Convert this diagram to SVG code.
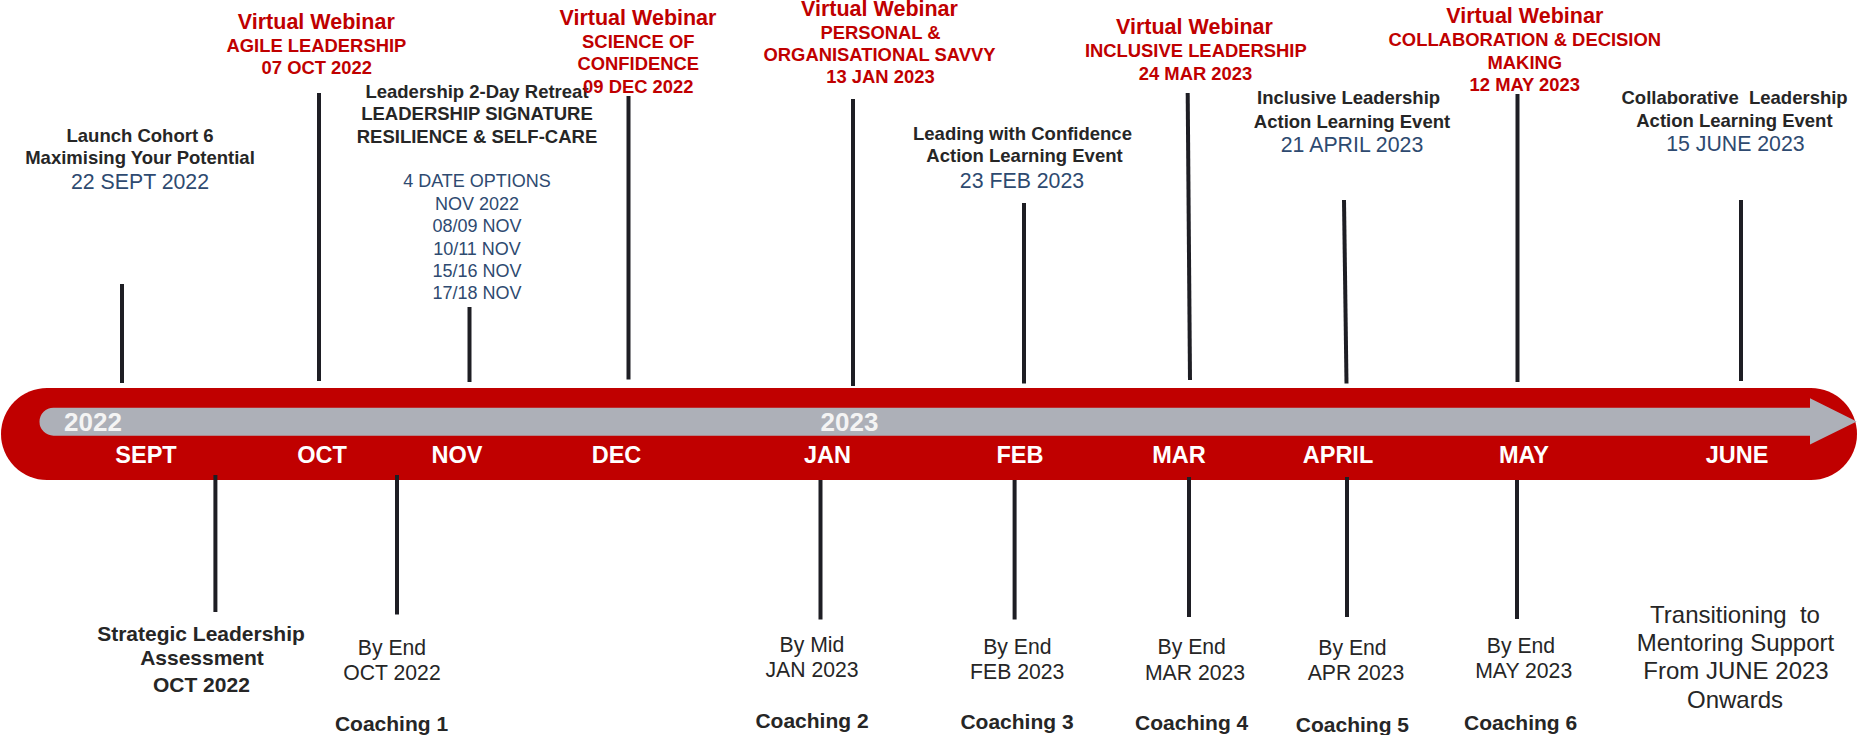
<svg xmlns="http://www.w3.org/2000/svg" width="1858" height="735" viewBox="0 0 1858 735">
  <style>
    text { font-family: "Liberation Sans", Arial, sans-serif; text-anchor: middle; }
    .red { fill: #c00000; font-weight: bold; }
    .vw { font-size: 21.5px; }
    .rs { font-size: 18.4px; }
    .blk { fill: #262626; font-weight: bold; font-size: 18.5px; }
    .nv { fill: #2e4a70; font-size: 21.3px; }
    .nvs { fill: #2e4a70; font-size: 18px; }
    .mon { fill: #ffffff; font-weight: bold; font-size: 23.5px; }
    .yr { fill: #f4f4f4; font-weight: bold; font-size: 26px; text-anchor: start; }
    .by { fill: #262626; font-size: 21.2px; }
    .co { fill: #262626; font-weight: bold; font-size: 21px; }
    .tr { fill: #262626; font-size: 24px; }
    .ln { stroke: #1e1e24; stroke-width: 4; fill: none; }
  </style>

  <!-- timeline band with year arrow -->
  <g id="timeline">
    <rect x="1" y="388" width="1856" height="92" rx="46" ry="46" fill="#c00000"/>
    <path d="M53.5 407.7 H1810 V398.3 L1856.7 421.5 L1810 444.5 V435.7 H53.5 A14 14 0 0 1 53.5 407.7 Z" fill="#adb0b8"/>
    <text class="yr" x="64" y="431">2022</text>
    <text class="yr" x="820.5" y="431">2023</text>
    <text class="mon" x="146" y="462.5">SEPT</text>
    <text class="mon" x="322" y="462.5">OCT</text>
    <text class="mon" x="457" y="462.5">NOV</text>
    <text class="mon" x="616.5" y="462.5">DEC</text>
    <text class="mon" x="827.5" y="462.5">JAN</text>
    <text class="mon" x="1020" y="462.5">FEB</text>
    <text class="mon" x="1179" y="462.5">MAR</text>
    <text class="mon" x="1338" y="462.5">APRIL</text>
    <text class="mon" x="1524" y="462.5">MAY</text>
    <text class="mon" x="1737" y="462.5">JUNE</text>
  </g>

  <!-- tick connectors above and below the band -->
  <g id="connectors">
    <line class="ln" x1="122" y1="284" x2="122" y2="383"/>
    <line class="ln" x1="319" y1="93" x2="319" y2="381"/>
    <line class="ln" x1="469.5" y1="307" x2="469.5" y2="382"/>
    <line class="ln" x1="628.5" y1="96" x2="628.5" y2="379.5"/>
    <line class="ln" x1="853" y1="99" x2="853" y2="386"/>
    <line class="ln" x1="1024" y1="203" x2="1024" y2="383.5"/>
    <line class="ln" x1="1187.7" y1="93" x2="1190" y2="380"/>
    <line class="ln" x1="1344" y1="200" x2="1346.5" y2="383.5"/>
    <line class="ln" x1="1517.5" y1="94" x2="1517.5" y2="382"/>
    <line class="ln" x1="1741" y1="200" x2="1741" y2="381"/>

    <line class="ln" x1="215.4" y1="475" x2="215.4" y2="612"/>
    <line class="ln" x1="397" y1="475" x2="397" y2="614.5"/>
    <line class="ln" x1="820.5" y1="480" x2="820.5" y2="619.5"/>
    <line class="ln" x1="1014.6" y1="480" x2="1014.6" y2="619.5"/>
    <line class="ln" x1="1189" y1="477" x2="1189" y2="617"/>
    <line class="ln" x1="1347" y1="477" x2="1347" y2="617"/>
    <line class="ln" x1="1517" y1="480" x2="1517" y2="619"/>
  </g>

  <!-- events above the band -->
  <g id="launch">
    <text class="blk" x="140" y="141.5">Launch Cohort 6</text>
    <text class="blk" x="140" y="163.5">Maximising Your Potential</text>
    <text class="nv" x="140" y="189">22 SEPT 2022</text>
  </g>

  <g id="webinar-agile">
    <text class="red vw" x="316.3" y="29.3">Virtual Webinar</text>
    <text class="red rs" x="316.4" y="52.3">AGILE LEADERSHIP</text>
    <text class="red rs" x="316.8" y="74">07 OCT 2022</text>
  </g>

  <g id="retreat">
    <text class="blk" x="477" y="97.5">Leadership 2-Day Retreat</text>
    <text class="blk" x="477" y="120">LEADERSHIP SIGNATURE</text>
    <text class="blk" x="477" y="142.7">RESILIENCE &amp; SELF-CARE</text>
    <text class="nvs" x="477" y="187.3">4 DATE OPTIONS</text>
    <text class="nvs" x="477" y="210">NOV 2022</text>
    <text class="nvs" x="477" y="232.3">08/09 NOV</text>
    <text class="nvs" x="477" y="254.5">10/11 NOV</text>
    <text class="nvs" x="477" y="276.7">15/16 NOV</text>
    <text class="nvs" x="477" y="299">17/18 NOV</text>
  </g>

  <g id="webinar-confidence">
    <text class="red vw" x="638" y="25">Virtual Webinar</text>
    <text class="red rs" x="638.3" y="48.3">SCIENCE OF</text>
    <text class="red rs" x="638.3" y="70">CONFIDENCE</text>
    <text class="red rs" x="638.3" y="92.7">09 DEC 2022</text>
  </g>

  <g id="webinar-savvy">
    <text class="red vw" x="879.5" y="16.2">Virtual Webinar</text>
    <text class="red rs" x="880.5" y="38.6">PERSONAL &amp;</text>
    <text class="red rs" x="879.5" y="61">ORGANISATIONAL SAVVY</text>
    <text class="red rs" x="880.5" y="83.3">13 JAN 2023</text>
  </g>

  <g id="confidence-event">
    <text class="blk" x="1022.5" y="140">Leading with Confidence</text>
    <text class="blk" x="1024.5" y="162.3">Action Learning Event</text>
    <text class="nv" x="1022" y="188.3">23 FEB 2023</text>
  </g>

  <g id="webinar-inclusive">
    <text class="red vw" x="1194.5" y="34">Virtual Webinar</text>
    <text class="red rs" x="1195.8" y="56.7">INCLUSIVE LEADERSHIP</text>
    <text class="red rs" x="1195.5" y="80">24 MAR 2023</text>
  </g>

  <g id="inclusive-event">
    <text class="blk" x="1348.6" y="104.3">Inclusive Leadership</text>
    <text class="blk" x="1352" y="127.7">Action Learning Event</text>
    <text class="nv" x="1352" y="151.7">21 APRIL 2023</text>
  </g>

  <g id="webinar-collaboration">
    <text class="red vw" x="1524.8" y="22.7">Virtual Webinar</text>
    <text class="red rs" x="1524.8" y="45.7">COLLABORATION &amp; DECISION</text>
    <text class="red rs" x="1524.8" y="69">MAKING</text>
    <text class="red rs" x="1524.8" y="90.7">12 MAY 2023</text>
  </g>

  <g id="collaborative-event">
    <text class="blk" x="1734.6" y="104" xml:space="preserve">Collaborative  Leadership</text>
    <text class="blk" x="1734.4" y="126.7">Action Learning Event</text>
    <text class="nv" x="1735.4" y="151">15 JUNE 2023</text>
  </g>

  <!-- milestones below the band -->
  <g id="assessment">
    <text class="co" x="201" y="640.5">Strategic Leadership</text>
    <text class="co" x="202" y="665">Assessment</text>
    <text class="co" x="201.4" y="691.5">OCT 2022</text>
  </g>

  <g id="coaching-1">
    <text class="by" x="392" y="655">By End</text>
    <text class="by" x="392" y="680">OCT 2022</text>
    <text class="co" x="391.5" y="730.5">Coaching 1</text>
  </g>

  <g id="coaching-2">
    <text class="by" x="812" y="651.7">By Mid</text>
    <text class="by" x="812" y="676.7">JAN 2023</text>
    <text class="co" x="812" y="728.3">Coaching 2</text>
  </g>

  <g id="coaching-3">
    <text class="by" x="1017.4" y="654">By End</text>
    <text class="by" x="1017.2" y="679">FEB 2023</text>
    <text class="co" x="1017" y="729">Coaching 3</text>
  </g>

  <g id="coaching-4">
    <text class="by" x="1191.7" y="654">By End</text>
    <text class="by" x="1195" y="680">MAR 2023</text>
    <text class="co" x="1191.7" y="730">Coaching 4</text>
  </g>

  <g id="coaching-5">
    <text class="by" x="1352.5" y="655">By End</text>
    <text class="by" x="1356" y="680">APR 2023</text>
    <text class="co" x="1352.4" y="731.5">Coaching 5</text>
  </g>

  <g id="coaching-6">
    <text class="by" x="1521" y="653.3">By End</text>
    <text class="by" x="1523.7" y="678.3">MAY 2023</text>
    <text class="co" x="1520.6" y="730">Coaching 6</text>
  </g>

  <g id="mentoring">
    <text class="tr" x="1735" y="623.3" xml:space="preserve">Transitioning  to</text>
    <text class="tr" x="1735.5" y="651">Mentoring Support</text>
    <text class="tr" x="1736" y="679.3">From JUNE 2023</text>
    <text class="tr" x="1735" y="708.3">Onwards</text>
  </g>
</svg>
